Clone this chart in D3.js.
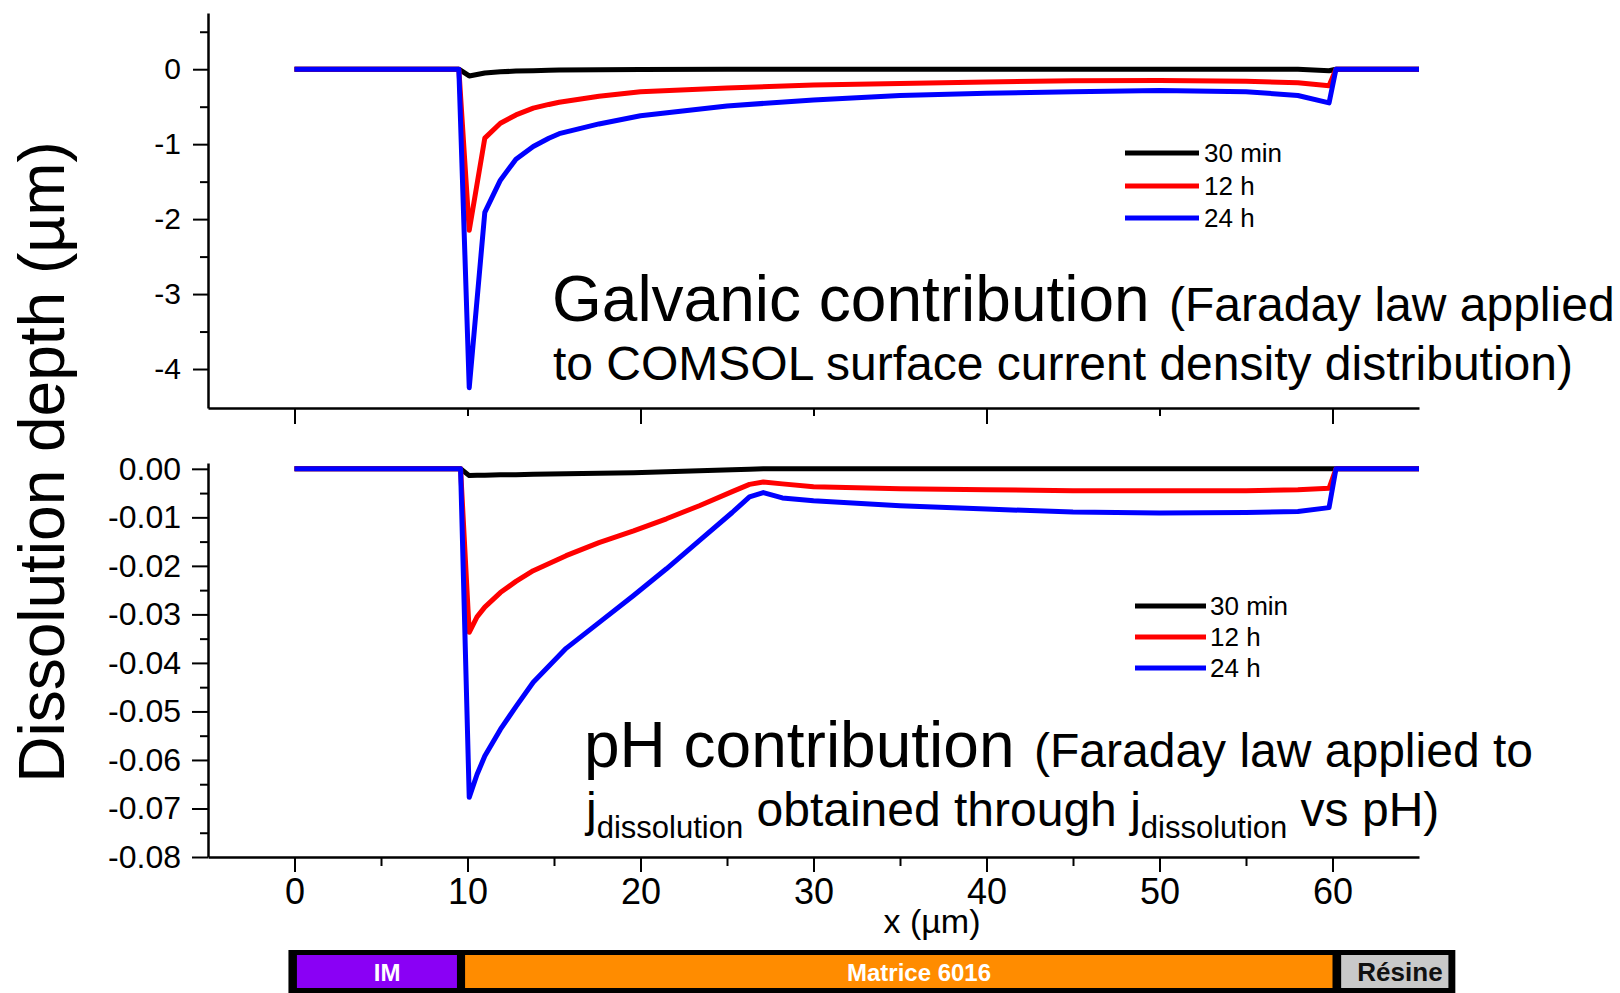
<!DOCTYPE html>
<html><head><meta charset="utf-8">
<script src="https://cdn.jsdelivr.net/npm/d3@7"></script>
<style>
body{margin:0;background:#fff}
svg{display:block}
text{font-family:"Liberation Sans",Arial,Helvetica,sans-serif;fill:#000}
</style>
</head><body>
<svg id="c" width="1620" height="993"></svg>
<script>
// ---------- data ----------
const seriesNames = ["30 min", "12 h", "24 h"];
const seriesColors = ["#000000", "#ff0000", "#0000ff"];

const xTickValues = [0, 10, 20, 30, 40, 50, 60];
const xMinorBottom = [5, 15, 25, 35, 45, 55];
const xMajorTop = [0, 20, 40, 60];
const xMinorTop = [10, 30, 50];

const topYTicks = [0, -1, -2, -3, -4];
const topYMinor = [0.5, -0.5, -1.5, -2.5, -3.5];
const botYTicks = [0, -0.01, -0.02, -0.03, -0.04, -0.05, -0.06, -0.07, -0.08];
const botYMinor = [-0.005, -0.015, -0.025, -0.035, -0.045, -0.055, -0.065, -0.075];

// Galvanic contribution (µm)
const galvX    = [0, 9.5, 10.1, 11.0, 11.9, 12.8, 13.8, 14.7, 15.3, 17.6, 20, 25, 30, 35, 40, 45, 50, 55, 58, 59.8, 60.2, 65];
const galv30m  = [0, 0, -0.09, -0.05, -0.035, -0.025, -0.02, -0.015, -0.012, -0.008, -0.005, -0.002, 0, 0, 0, 0, 0, 0, 0, -0.02, 0, 0];
const galv12h  = [0, 0, -2.15, -0.92, -0.72, -0.61, -0.52, -0.47, -0.44, -0.36, -0.30, -0.25, -0.21, -0.19, -0.17, -0.155, -0.15, -0.16, -0.18, -0.22, 0, 0];
const galv24h  = [0, 0, -4.25, -1.91, -1.48, -1.20, -1.03, -0.92, -0.86, -0.73, -0.62, -0.49, -0.41, -0.35, -0.32, -0.30, -0.285, -0.30, -0.35, -0.45, 0, 0];

// pH contribution (µm)
const phX   = [0, 9.6, 10.1, 10.55, 11.0, 11.9, 12.8, 13.8, 15.7, 17.6, 19.6, 21.5, 23.4, 25.3, 26.3, 27.1, 28.2, 30, 35, 40, 45, 50, 55, 58, 59.8, 60.2, 65];
const ph30m = [0, 0, -0.0014, -0.0013, -0.0013, -0.0012, -0.0012, -0.0011, -0.001, -0.0009, -0.0008, -0.0006, -0.0004, -0.0002, -0.0001, 0, 0, 0, 0, 0, 0, 0, 0, 0, 0, 0, 0];
const ph12h = [0, 0, -0.0337, -0.0305, -0.0285, -0.0255, -0.0232, -0.021, -0.0179, -0.0152, -0.0128, -0.0103, -0.0076, -0.0047, -0.0032, -0.0027, -0.0031, -0.0037, -0.0041, -0.0043, -0.0045, -0.0045, -0.0045, -0.0043, -0.004, 0, 0];
const ph24h = [0, 0, -0.0677, -0.0630, -0.0592, -0.0537, -0.0490, -0.0440, -0.0370, -0.0317, -0.0261, -0.0206, -0.0148, -0.009, -0.0058, -0.0049, -0.006, -0.0066, -0.0076, -0.0083, -0.0089, -0.0091, -0.009, -0.0088, -0.008, 0, 0];

// schematic bar (x in µm)
const barLabels = ["IM", "Matrice 6016", "Résine"];
const barStart  = [0.14, 9.86, 60.5];
const barEnd    = [9.39, 60.0, 66.7];
const barLabelAt = [5.35, 36.1, 63.9];
const barFrame  = [-0.35, 67.1];
const barFills  = ["#8a00f5", "#ff8c00", "#c9c9c9"];
const barText   = ["#ffffff", "#ffffff", "#111111"];

// ---------- drawing ----------
const FONT = "Liberation Sans, Arial, sans-serif";
const svg = d3.select("#c");
const x  = d3.scaleLinear().domain([-5, 65]).range([208, 1419]);
const yT = d3.scaleLinear().domain([-4.52, 0.75]).range([408, 13]);
const yB = d3.scaleLinear().domain([-0.08, 0.0012]).range([857, 463]);

function styleAxis(g, w) {
  g.select(".domain").attr("stroke", "#000").attr("stroke-width", w);
  g.selectAll(".tick line").attr("stroke", "#000").attr("stroke-width", 2);
  g.selectAll(".tick text").attr("fill", "#000").attr("font-family", FONT);
}
function minor(g) { g.select(".domain").remove(); g.selectAll(".tick line").attr("stroke", "#000").attr("stroke-width", 2); }

// top y axis
svg.append("g").attr("transform", "translate(208,0)")
  .call(d3.axisLeft(yT).tickValues(topYTicks).tickSize(15).tickSizeOuter(0).tickPadding(12).tickFormat(d => String(d)))
  .call(g => styleAxis(g, 2.5))
  .call(g => g.selectAll(".tick text").attr("font-size", 30));
svg.append("g").attr("transform", "translate(208,0)")
  .call(d3.axisLeft(yT).tickValues(topYMinor).tickSize(8).tickFormat(""))
  .call(minor);

// top x axis
svg.append("g").attr("transform", "translate(0,408)")
  .call(d3.axisBottom(x).tickValues(xMajorTop).tickSize(16).tickSizeOuter(0).tickFormat(""))
  .call(g => styleAxis(g, 2.5));
svg.append("g").attr("transform", "translate(0,408)")
  .call(d3.axisBottom(x).tickValues(xMinorTop).tickSize(8).tickFormat(""))
  .call(minor);

// bottom y axis
svg.append("g").attr("transform", "translate(208,0)")
  .call(d3.axisLeft(yB).tickValues(botYTicks).tickSize(16).tickSizeOuter(0).tickPadding(11).tickFormat(d => d.toFixed(2)))
  .call(g => styleAxis(g, 2.5))
  .call(g => g.selectAll(".tick text").attr("font-size", 32));
svg.append("g").attr("transform", "translate(208,0)")
  .call(d3.axisLeft(yB).tickValues(botYMinor).tickSize(8).tickFormat(""))
  .call(minor);

// bottom x axis
svg.append("g").attr("transform", "translate(0,857)")
  .call(d3.axisBottom(x).tickValues(xTickValues).tickSize(15).tickSizeOuter(0).tickPadding(6).tickFormat(d => String(d)))
  .call(g => styleAxis(g, 2.5))
  .call(g => g.selectAll(".tick text").attr("font-size", 36));
svg.append("g").attr("transform", "translate(0,857)")
  .call(d3.axisBottom(x).tickValues(xMinorBottom).tickSize(9).tickFormat(""))
  .call(minor);

// lines
const topSeries = [galv30m, galv12h, galv24h];
const botSeries = [ph30m, ph12h, ph24h];
topSeries.forEach((vals, k) => {
  const line = d3.line().x((d, i) => x(galvX[i])).y(d => yT(d));
  svg.append("path").attr("d", line(vals)).attr("fill", "none")
    .attr("stroke", seriesColors[k]).attr("stroke-width", 5).attr("stroke-linejoin", "round");
});
botSeries.forEach((vals, k) => {
  const line = d3.line().x((d, i) => x(phX[i])).y(d => yB(d));
  svg.append("path").attr("d", line(vals)).attr("fill", "none")
    .attr("stroke", seriesColors[k]).attr("stroke-width", 5).attr("stroke-linejoin", "round");
});

// legends
function legend(x0, x1, ys, tx) {
  seriesNames.forEach((n, k) => {
    svg.append("line").attr("x1", x0).attr("x2", x1).attr("y1", ys[k]).attr("y2", ys[k])
      .attr("stroke", seriesColors[k]).attr("stroke-width", 5);
    svg.append("text").attr("x", tx).attr("y", ys[k] + 9).attr("font-size", 26).text(n);
  });
}
legend(1125, 1199, [153, 186, 218], 1204);
legend(1135, 1206, [606, 637, 668], 1210);

// annotations
svg.append("text").attr("x", 552).attr("y", 321).attr("font-size", 64).text("Galvanic contribution");
svg.append("text").attr("x", 1169).attr("y", 321).attr("font-size", 48).text("(Faraday law applied");
svg.append("text").attr("x", 553).attr("y", 380).attr("font-size", 48).text("to COMSOL surface current density distribution)");

svg.append("text").attr("x", 584).attr("y", 767).attr("font-size", 64).text("pH contribution");
svg.append("text").attr("x", 1034).attr("y", 767).attr("font-size", 48).text("(Faraday law applied to");
const l2 = svg.append("text").attr("x", 586).attr("y", 826).attr("font-size", 48);
l2.append("tspan").text("j");
l2.append("tspan").attr("font-size", 31).attr("dy", 12).text("dissolution");
l2.append("tspan").attr("dy", -12).text(" obtained through j");
l2.append("tspan").attr("font-size", 31).attr("dy", 12).text("dissolution");
l2.append("tspan").attr("dy", -12).text(" vs pH)");

// axis titles
svg.append("text").attr("transform", "translate(64,462) rotate(-90)").attr("text-anchor", "middle")
  .attr("font-size", 64).text("Dissolution depth (µm)");
svg.append("text").attr("x", 932).attr("y", 933).attr("text-anchor", "middle").attr("font-size", 34).text("x (µm)");

// schematic bar
svg.append("rect").attr("x", x(barFrame[0])).attr("width", x(barFrame[1]) - x(barFrame[0]))
  .attr("y", 950).attr("height", 43).attr("fill", "#000");
barLabels.forEach((lab, k) => {
  svg.append("rect").attr("x", x(barStart[k])).attr("width", x(barEnd[k]) - x(barStart[k]))
    .attr("y", 955).attr("height", 33).attr("fill", barFills[k]);
  svg.append("text").attr("x", x(barLabelAt[k])).attr("y", 981)
    .attr("text-anchor", "middle").attr("font-size", k === 2 ? 26 : 24).attr("font-weight", "bold")
    .style("fill", barText[k]).text(lab);
});
</script>
</body></html>
